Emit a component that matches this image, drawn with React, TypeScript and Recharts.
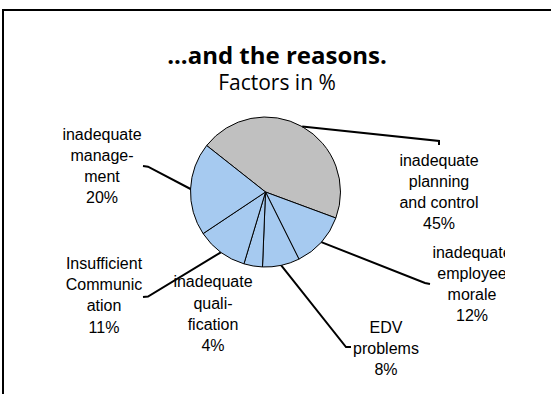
import React from 'react';
import { PieChart, Pie, Cell } from 'recharts';

const categories = [
  'inadequate planning and control',
  'inadequate employee morale',
  'EDV problems',
  'inadequate qualification',
  'Insufficient Communication',
  'inadequate management',
];
const labelLines = [
  ['inadequate', 'planning', 'and control'],
  ['inadequate', 'employee', 'morale'],
  ['EDV', 'problems'],
  ['inadequate', 'quali-', 'fication'],
  ['Insufficient', 'Communic', 'ation'],
  ['inadequate', 'manage-', 'ment'],
];
const shares = [45, 12, 8, 4, 11, 20];

const data = categories.map((name, i) => ({ name, value: shares[i], lines: labelLines[i] }));

// label placement, offsets from the pie centre
const labelLayout = [
  { elbow: [173.5, -51], tick: [173.5, -47], text: [173.5, -32] },
  { elbow: [159.5, 91], tick: [164.5, 92], text: [206.5, 60] },
  { elbow: [80.5, 155], tick: [85.5, 155], text: [120.5, 135] },
  { elbow: null, tick: null, text: [-52.5, 89.7] },
  { elbow: [-117.5, 104.5], tick: [-122.5, 105], text: [-161.5, 71.3] },
  { elbow: [-117.5, -25.3], tick: [-122.5, -26], text: [-163.5, -58] },
];

const RAD = Math.PI / 180;
const LINE_H = 21.3;

const renderLabel = (props: any) => {
  const { cx, cy, midAngle, outerRadius, index, payload, value } = props;
  const lay = labelLayout[index];
  const sx = cx + outerRadius * Math.cos(-midAngle * RAD);
  const sy = cy + outerRadius * Math.sin(-midAngle * RAD);
  const lines: string[] = [...(payload?.lines ?? labelLines[index]), `${value}%`];
  const tx = cx + lay.text[0];
  const ty = cy + lay.text[1];
  return (
    <g key={`lbl-${index}`}>
      <defs>
        <clipPath id={`lbl-clip-${index}`}>
          <rect x={0} y={0} width={505} height={394} />
        </clipPath>
      </defs>
      {lay.elbow && lay.tick && (
        <polyline
          points={`${sx},${sy} ${cx + lay.elbow[0]},${cy + lay.elbow[1]} ${cx + lay.tick[0]},${cy + lay.tick[1]}`}
          fill="none"
          stroke="#000"
          strokeWidth={2}
        />
      )}
      <g clipPath={`url(#lbl-clip-${index})`}>
        {lines.map((t, i) => (
          <text
            key={i}
            x={tx}
            y={ty + i * LINE_H + 5.5}
            textAnchor="middle"
            fontFamily="'Liberation Sans', Arial, sans-serif"
            fontSize={16}
            fill="#000"
          >
            {t}
          </text>
        ))}
      </g>
    </g>
  );
};

export default function App() {
  return (
    <div style={{ position: 'fixed', left: 0, top: 0, width: 551, height: 394, overflow: 'hidden', background: '#fff' }}>
      <svg width={551} height={394} style={{ position: 'absolute', left: 0, top: 0 }}>
        <rect x={3} y={10} width={700} height={600} fill="none" stroke="#000" strokeWidth={2} />
        <text x={277} y={64} textAnchor="middle" fontFamily="'Open Sans', sans-serif" fontWeight="bold" fontSize={24} fill="#000">
          ...and the reasons.
        </text>
        <text x={277} y={90} textAnchor="middle" fontFamily="'Open Sans', sans-serif" fontSize={21} fill="#000">
          Factors in %
        </text>
      </svg>
      <div style={{ position: 'absolute', left: 0, top: 0 }}>
        <PieChart width={551} height={394} margin={{ top: 0, right: 0, bottom: 0, left: 0 }}>
          <Pie
            data={data}
            dataKey="value"
            nameKey="name"
            cx={265.5}
            cy={192}
            outerRadius={75}
            startAngle={141.7}
            endAngle={-218.3}
            stroke="#000"
            strokeWidth={1}
            label={renderLabel}
            labelLine={false}
            isAnimationActive={false}
          >
            {data.map((d, i) => (
              <Cell key={d.name} fill={i === 0 ? '#C0C0C0' : '#A6CAF0'} />
            ))}
          </Pie>
        </PieChart>
      </div>
    </div>
  );
}
